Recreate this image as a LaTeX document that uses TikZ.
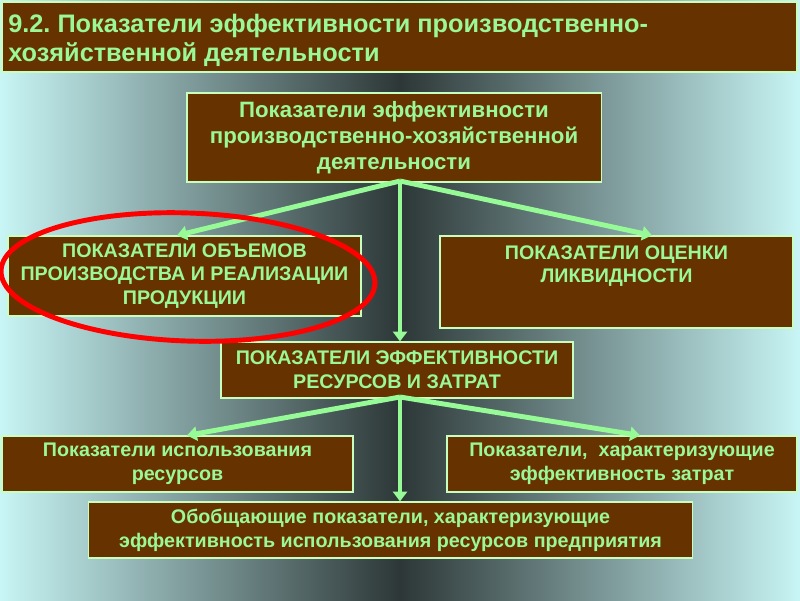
\documentclass[tikz,border=0pt]{standalone}
\usepackage{fontspec}
\setmainfont{Liberation Sans}
\usepackage{tikz}
\usetikzlibrary{positioning}
\usetikzlibrary{arrows.meta}
\frenchspacing
\definecolor{brn}{RGB}{102,51,0}
\definecolor{txtgreen}{RGB}{155,248,150}
\definecolor{arrgreen}{RGB}{150,250,150}
\definecolor{boxline}{RGB}{200,255,190}
\definecolor{bgedge}{RGB}{200,245,245}
\definecolor{bgdark}{RGB}{45,55,55}
\tikzset{
  pokbox/.style={draw=boxline, line width=0.8pt, fill=brn, text=txtgreen, align=center, inner sep=0pt, font=\bfseries\fontsize{14}{17}\selectfont},
  grarrow/.style={draw=arrgreen, line width=3.5pt, -{Triangle[length=7pt,width=10pt]}},
}
\begin{document}
\begin{tikzpicture}[x=0.025cm,y=-0.025cm]
\useasboundingbox (0,0) rectangle (800,600);
\shade [left color=bgedge, right color=bgedge, middle color=bgdark] (0,0) rectangle (800,600);
\draw [fill=brn, draw=boxline, line width=0.8pt] (2,2) rectangle (797,72);
\node [anchor=north west, align=left, inner sep=0pt, text=txtgreen, font=\bfseries\fontsize{18}{20.5}\selectfont] (title) at (8,14) {9.2. Показатели эффективности производственно-\\хозяйственной деятельности};
\node [pokbox, minimum width=10.35cm, minimum height=2.225cm, font=\bfseries\fontsize{15.8}{18.5}\selectfont] (toppok) at (394,137.5) {Показатели эффективности\\производственно-хозяйственной\\деятельности};
\node [pokbox, minimum width=8.825cm, minimum height=2cm] (obem) at (184.5,276) {ПОКАЗАТЕЛИ ОБЪЕМОВ\\ПРОИЗВОДСТВА И РЕАЛИЗАЦИИ\\ПРОДУКЦИИ};
\node [pokbox, minimum width=8.825cm, minimum height=2.3cm] (likv) at (616.5,282) {ПОКАЗАТЕЛИ ОЦЕНКИ\\ЛИКВИДНОСТИ\\[8.5pt]\mbox{}};
\node [pokbox, minimum width=8.8cm, minimum height=1.4cm] (resz) at (397,370) {ПОКАЗАТЕЛИ ЭФФЕКТИВНОСТИ\\РЕСУРСОВ И ЗАТРАТ};
\node [pokbox, minimum width=8.775cm, minimum height=1.4cm] (isp) at (177.5,464) {Показатели использования\\ресурсов};
\node [pokbox, minimum width=8.75cm, minimum height=1.4cm] (zatr) at (622,464) {Показатели,\ \ характеризующие\\эффективность затрат};
\node [pokbox, minimum width=15.075cm, minimum height=1.4cm] (obob) at (390.5,530) {Обобщающие показатели, характеризующие\\эффективность использования ресурсов предприятия};
\coordinate (split1) at (400,181);
\coordinate (split2) at (400,397);
\draw [grarrow] (split1) -- (obem.north -| 177,0);
\draw [grarrow] (split1) -- (likv.north -| 652,0);
\draw [grarrow] (split1) -- (split1 |- resz.north);
\draw [grarrow] (split2) -- (isp.north -| 187,0);
\draw [grarrow] (split2) -- (zatr.north -| 640,0);
\draw [grarrow] (split2) -- (split2 |- obob.north);
\draw [red, line width=3.5pt, rotate around={-2:(188,277)}] (188,277) ellipse [x radius=4.675cm, y radius=1.6cm];
\end{tikzpicture}
\end{document}
